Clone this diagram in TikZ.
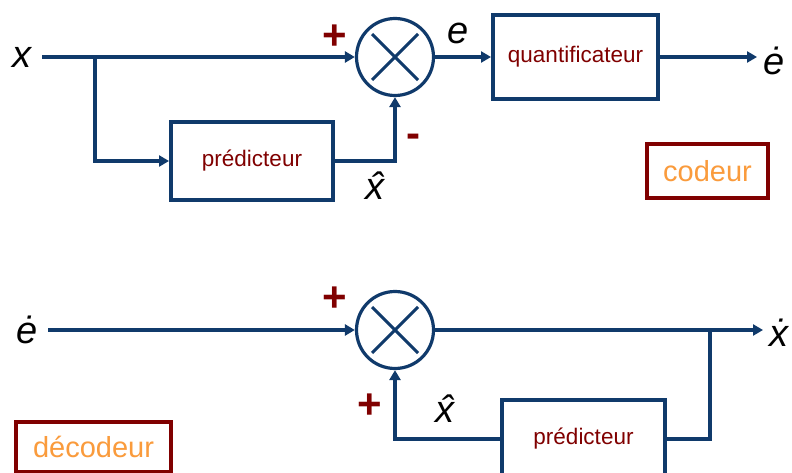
\documentclass[tikz,border=0pt]{standalone}
\usepackage{fontspec}
\setmainfont{Liberation Sans}
\usetikzlibrary{arrows.meta}
\definecolor{wire}{RGB}{16,58,107}
\definecolor{darkred}{RGB}{128,0,0}
\definecolor{label}{RGB}{250,155,60}
\tikzset{
  wire/.style={draw=wire, line width=4pt, -{Triangle[length=10pt,width=11pt]}},
  plain/.style={draw=wire, line width=4pt},
  block/.style={draw=wire, line width=4pt, fill=white, font=\fontsize{22.5}{24}\selectfont, text=darkred, inner sep=0pt},
  mixer/.style={draw=wire, line width=3.2pt, circle, minimum size=77pt, inner sep=0pt},
  tag/.style={draw=darkred, line width=4.5pt, text=label, font=\fontsize{29}{32}\selectfont, inner sep=0pt},
  sym/.style={font=\fontsize{38}{40}\selectfont\itshape, text=black, inner sep=0pt},
  sign/.style={font=\fontsize{42}{44}\selectfont\bfseries, text=darkred, inner sep=0pt},
}
\begin{document}
\begin{tikzpicture}[x=1pt,y=-1pt]
\clip (0,0) rectangle (792,473);
\fill[white] (0,0) rectangle (792,473);

% ---------- encoder ----------
\node[sym] (xin) at (22,57) {x};
\node[mixer] (s1) at (395,57) {};
\draw[wire, line width=3pt, -] (s1.center) ++(-23,-23) -- ++(46,46);
\draw[wire, line width=3pt, -] (s1.center) ++(23,-23) -- ++(-46,46);
\node[block, minimum width=162pt, minimum height=78pt] (p1) at (252,161) {prédicteur};
\node[block, minimum width=165pt, minimum height=84pt] (q) at (575.5,57) {quantificateur};
\coordinate (eout) at (757,57);
\node[sym] (edot1) at (774,61) {ė};
\node[sym] (e) at (458,33) {e};
\node[sym] (xh1) at (375,186) {\^x};
\node[sign] (plus1) at (335,37) {+};
\node[sign] (minus1) at (413,141) {-};
\node[tag, minimum width=121pt, minimum height=54pt] (codeur) at (707.5,171) {codeur};

\coordinate (br1) at (95,57);
\draw[wire] (42,57) -- (s1.west);
\draw[wire] (br1) |- (p1.west);
\draw[wire] (p1.east) -| (s1.south);
\draw[wire] (s1.east) -- (q.west);
\draw[wire] (q.east) -- (eout);

% ---------- decoder ----------
\node[sym] (edot2) at (27,330) {ė};
\node[mixer] (s2) at (395,330) {};
\draw[wire, line width=3pt, -] (s2.center) ++(-23,-23) -- ++(46,46);
\draw[wire, line width=3pt, -] (s2.center) ++(23,-23) -- ++(-46,46);
\coordinate (ein) at (48,330);
\coordinate (xout) at (763,330);
\node[sym] (xdot) at (779,333) {\.x};
\node[block, minimum width=163pt, minimum height=78pt] (p2) at (583.5,439) {prédicteur};
\node[sym] (xh2) at (445,409) {\^x};
\node[sign] (plus2) at (335,299) {+};
\node[sign] (plus3) at (370,406) {+};
\node[tag, minimum width=155pt, minimum height=50pt] (decodeur) at (93.5,447) {décodeur};

\coordinate (br2) at (710,330);
\draw[wire] (ein) -- (s2.west);
\draw[wire] (s2.east) -- (xout);
\draw[plain] (br2) |- (p2.east);
\draw[wire] (p2.west) -| (s2.south);
\end{tikzpicture}
\end{document}
